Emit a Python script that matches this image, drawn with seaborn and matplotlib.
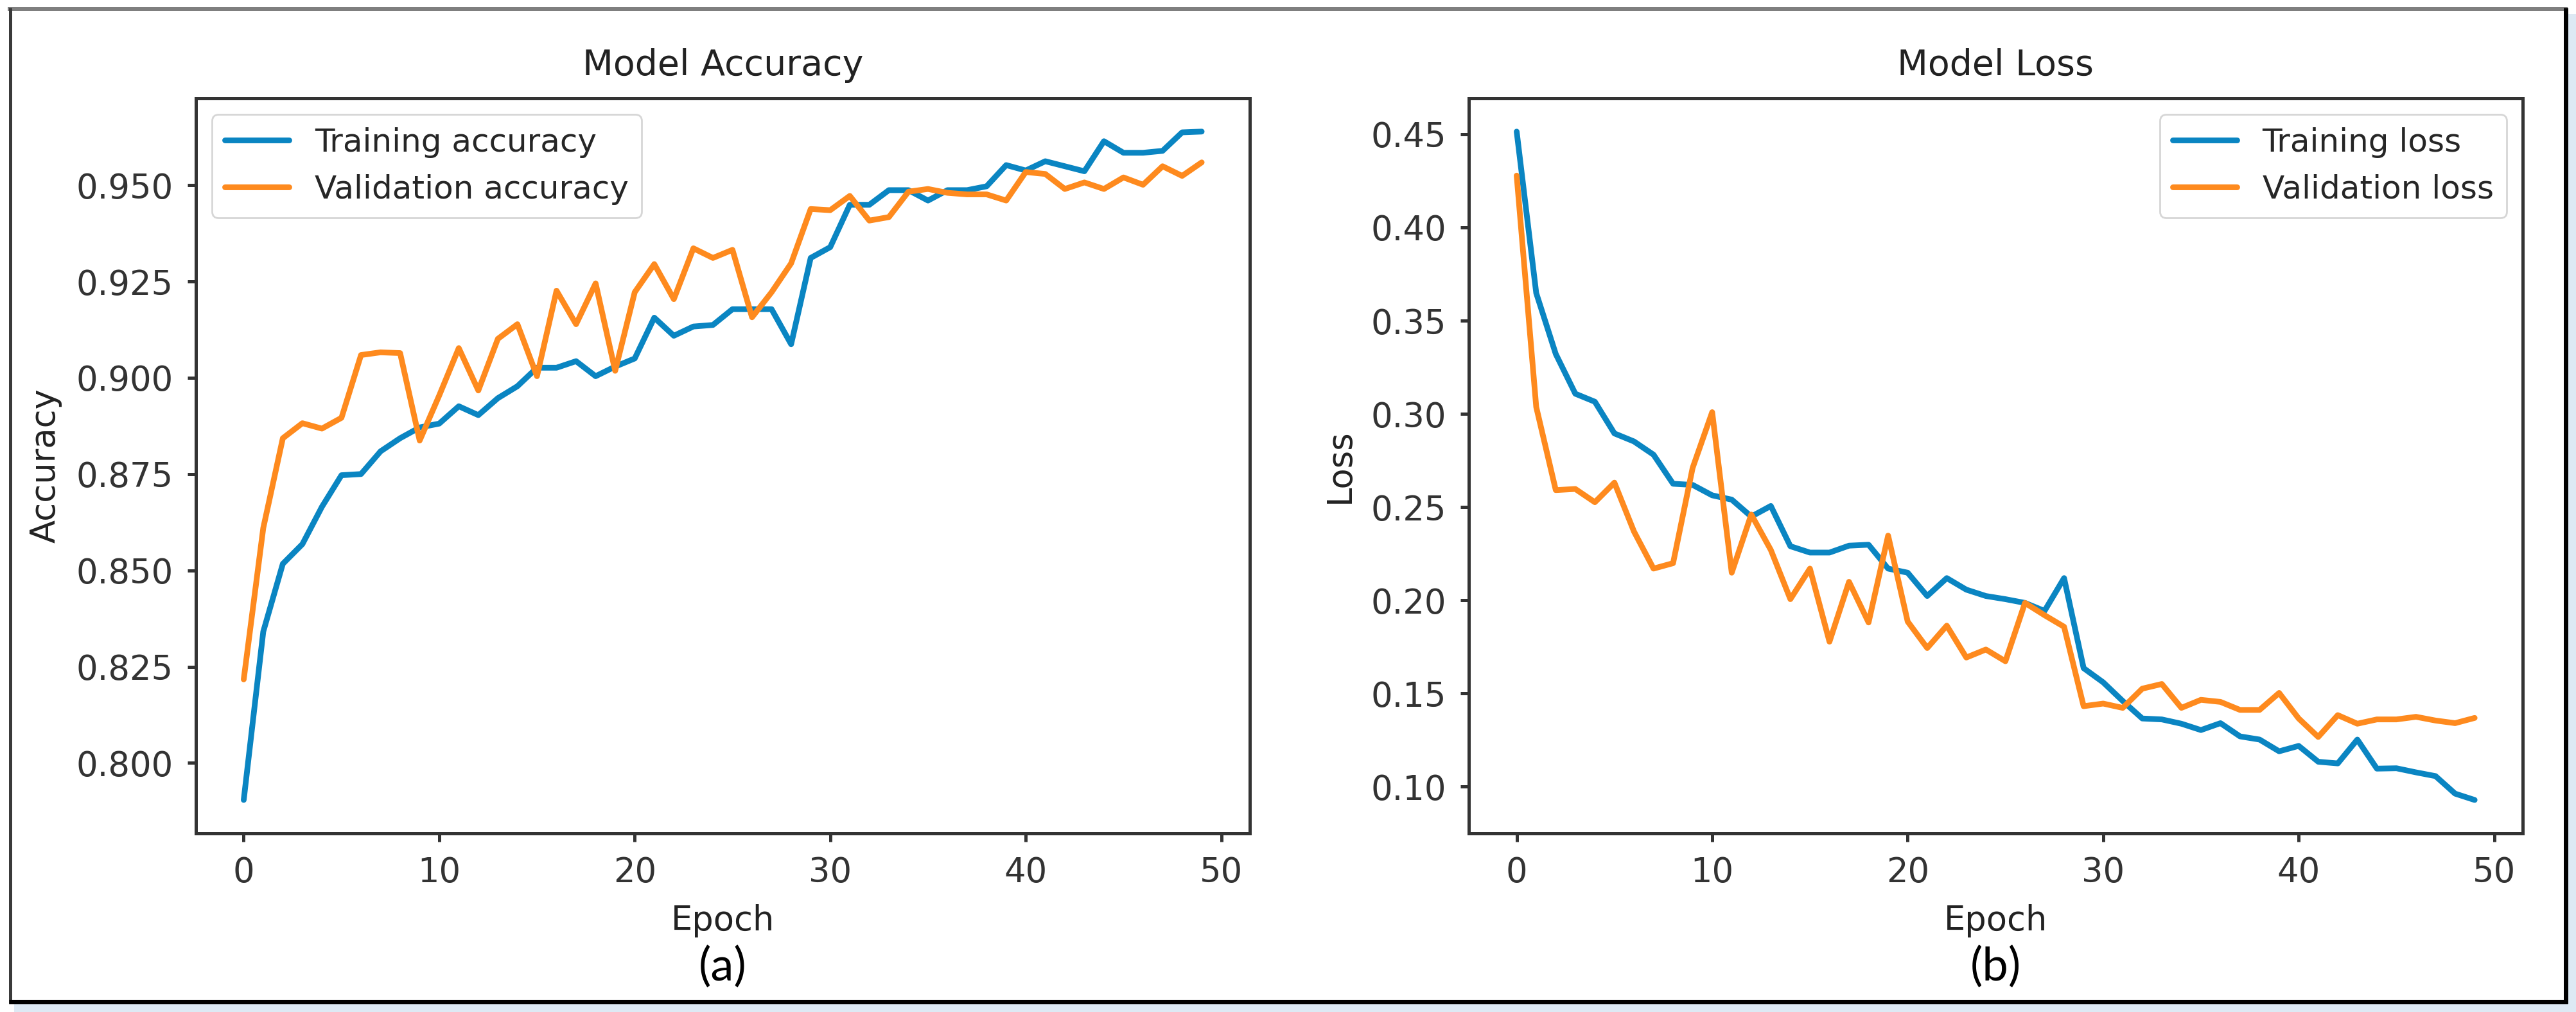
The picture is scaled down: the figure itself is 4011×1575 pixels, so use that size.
import numpy as np
import matplotlib.pyplot as plt
import seaborn as sns
from matplotlib.lines import Line2D
from matplotlib.patches import Rectangle

# valores (50 epocas)
epocas = np.arange(50)

acc_treino = [0.7904, 0.8341, 0.8517, 0.8568, 0.8665, 0.8747, 0.8750, 0.8809, 0.8843, 0.8871,
              0.8881, 0.8926, 0.8903, 0.8947, 0.8978, 0.9026, 0.9026, 0.9043, 0.9004, 0.9029,
              0.9050, 0.9156, 0.9109, 0.9133, 0.9137, 0.9178, 0.9178, 0.9178, 0.9087, 0.9311,
              0.9339, 0.9449, 0.9449, 0.9487, 0.9487, 0.9460, 0.9487, 0.9487, 0.9497, 0.9552,
              0.9538, 0.9562, 0.9549, 0.9536, 0.9614, 0.9584, 0.9584, 0.9589, 0.9637, 0.9639]
acc_valid = [0.8217, 0.8610, 0.8843, 0.8882, 0.8868, 0.8896, 0.9059, 0.9066, 0.9064, 0.8837,
             0.8954, 0.9077, 0.8967, 0.9101, 0.9139, 0.9004, 0.9226, 0.9139, 0.9245, 0.9018,
             0.9222, 0.9295, 0.9204, 0.9336, 0.9311, 0.9332, 0.9157, 0.9222, 0.9297, 0.9438,
             0.9435, 0.9472, 0.9408, 0.9417, 0.9483, 0.9490, 0.9480, 0.9476, 0.9476, 0.9460,
             0.9534, 0.9529, 0.9490, 0.9507, 0.9490, 0.9520, 0.9501, 0.9549, 0.9524, 0.9559]

loss_treino = [0.4514, 0.3648, 0.3321, 0.3108, 0.3065, 0.2895, 0.2852, 0.2781, 0.2625, 0.2619,
               0.2563, 0.2540, 0.2449, 0.2506, 0.2290, 0.2256, 0.2256, 0.2293, 0.2298, 0.2170,
               0.2148, 0.2023, 0.2119, 0.2057, 0.2023, 0.2006, 0.1986, 0.1943, 0.2119, 0.1636,
               0.1560, 0.1460, 0.1366, 0.1361, 0.1338, 0.1304, 0.1341, 0.1270, 0.1253, 0.1190,
               0.1219, 0.1134, 0.1125, 0.1253, 0.1097, 0.1099, 0.1077, 0.1057, 0.0963, 0.0929]
loss_valid = [0.4278, 0.3037, 0.2591, 0.2597, 0.2526, 0.2631, 0.2369, 0.2170, 0.2199, 0.2710,
              0.3009, 0.2148, 0.2460, 0.2270, 0.2006, 0.2170, 0.1778, 0.2099, 0.1881, 0.2347,
              0.1886, 0.1744, 0.1864, 0.1693, 0.1736, 0.1673, 0.1986, 0.1920, 0.1858, 0.1432,
              0.1446, 0.1423, 0.1526, 0.1551, 0.1423, 0.1466, 0.1455, 0.1412, 0.1412, 0.1503,
              0.1366, 0.1267, 0.1384, 0.1338, 0.1361, 0.1361, 0.1375, 0.1355, 0.1341, 0.1369]

azul = "#0a85c2"
laranja = "#fe8a1e"

sns.set_style("ticks")
plt.rcParams["font.family"] = ["DejaVu Sans"]
plt.rcParams["axes.linewidth"] = 1.8
plt.rcParams["axes.edgecolor"] = "#333333"
plt.rcParams["xtick.major.size"] = 4.7
plt.rcParams["ytick.major.size"] = 4.7
plt.rcParams["xtick.major.width"] = 1.8
plt.rcParams["ytick.major.width"] = 1.8
plt.rcParams["xtick.major.pad"] = 8
plt.rcParams["ytick.major.pad"] = 8

W, H = 4012, 1575
fig = plt.figure(figsize=(W / 200, H / 200), dpi=200)
fig.patch.set_facecolor("white")
axs = fig.subplots(1, 2)
fig.subplots_adjust(left=0.076, right=0.979, bottom=0.1765, top=0.903, wspace=0.208)

paineis = [
    (axs[0], acc_treino, acc_valid, "Training accuracy", "Validation accuracy",
     "Model Accuracy", "Accuracy", "upper left", "(a)"),
    (axs[1], loss_treino, loss_valid, "Training loss", "Validation loss",
     "Model Loss", "Loss", "upper right", "(b)"),
]

for ax, treino, valid, lab_t, lab_v, titulo, ylab, loc, letra in paineis:
    sns.lineplot(x=epocas, y=treino, ax=ax, color=azul, lw=3.2, label=lab_t)
    sns.lineplot(x=epocas, y=valid, ax=ax, color=laranja, lw=3.2, label=lab_v)
    ax.set_title(titulo, fontsize=20, pad=13, color="#222222")
    ax.set_xlabel("Epoch", fontsize=19, color="#222222", labelpad=8)
    ax.set_ylabel(ylab, fontsize=19, color="#222222", labelpad=8)
    ax.tick_params(labelsize=19, colors="#333333")
    ax.set_xticks([0, 10, 20, 30, 40, 50])
    for s in ax.spines.values():
        s.set_visible(True)
    ax.legend(loc=loc, fontsize=18, frameon=True, framealpha=0.8,
              edgecolor="0.8", fancybox=True)
    pos = ax.get_position()
    fig.text((pos.x0 + pos.x1) / 2, 1 - 1505 / H, letra, ha="center", va="center",
             fontsize=26, family=["Lato", "DejaVu Sans"], color="black")

ax_acc, ax_loss = axs
ax_acc.set_yticks([0.800, 0.825, 0.850, 0.875, 0.900, 0.925, 0.950])
ax_acc.set_yticklabels(["0.800", "0.825", "0.850", "0.875", "0.900", "0.925", "0.950"])
ax_loss.set_yticks([0.10, 0.15, 0.20, 0.25, 0.30, 0.35, 0.40, 0.45])
ax_loss.set_yticklabels(["0.10", "0.15", "0.20", "0.25", "0.30", "0.35", "0.40", "0.45"])

# moldura da imagem (borda + sombra azulada)
def px(x, y):
    return x / W, 1 - y / H

fig.add_artist(Rectangle(px(22, 1575), (W - 22) / W, (1575 - 22) / H,
                         transform=fig.transFigure, facecolor="#dde9f4", edgecolor="none", zorder=-3))
fig.add_artist(Rectangle(px(14, 1561), (3998 - 14) / W, (1561 - 12) / H,
                         transform=fig.transFigure, facecolor="white", edgecolor="none", zorder=-2))
linhas = [
    ((12, 14), (3998, 14), "#7f7f7f", 6),
    ((16, 12), (16, 1562), "#3a3a3a", 5),
    ((3995, 12), (3995, 1562), "black", 7),
    ((14, 1559), (3998, 1559), "black", 7),
]
for (x0, y0), (x1, y1), cor, larg in linhas:
    a, b = px(x0, y0)
    c, d = px(x1, y1)
    fig.add_artist(Line2D([a, c], [b, d], transform=fig.transFigure, color=cor,
                          lw=larg * 0.36, solid_capstyle="butt"))

fig.savefig("out.png", dpi=200, facecolor="white")
